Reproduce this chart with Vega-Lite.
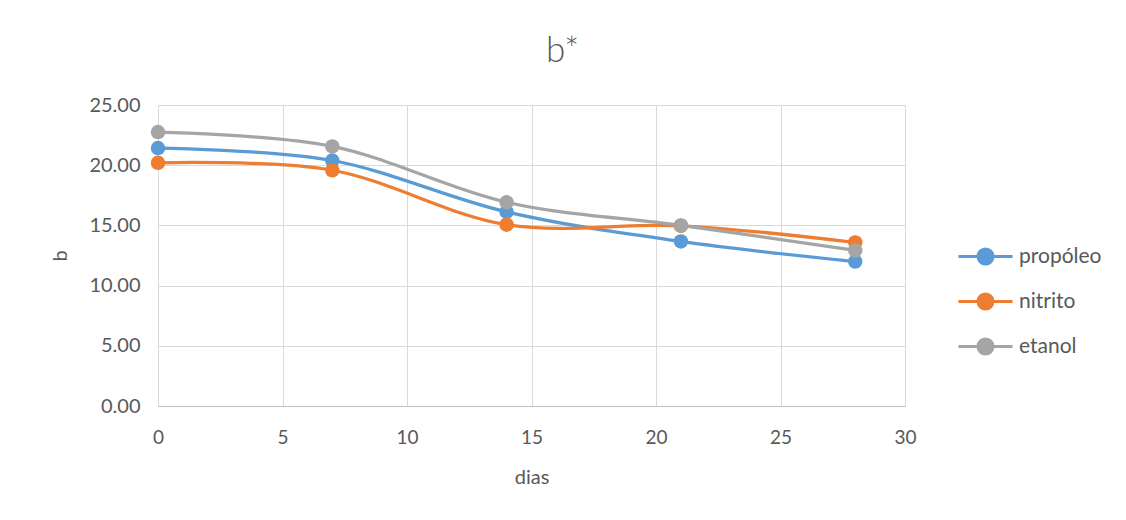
{
  "$schema": "https://vega.github.io/schema/vega-lite/v6.json",
  "width": 747,
  "height": 301,
  "autosize": {"type": "none"},
  "padding": {"left": 158, "top": 105, "right": 221, "bottom": 114},
  "background": "white",
  "title": {"text": "b*", "fontSize": 35, "font": "Lato", "fontWeight": 300, "color": "#595959", "frame": "group", "anchor": "middle", "dx": 31, "offset": 26},
  "data": {"values": [
    {"serie": "propóleo", "dias": 0, "b": 21.42},
    {"serie": "propóleo", "dias": 7, "b": 20.39},
    {"serie": "propóleo", "dias": 14, "b": 16.12},
    {"serie": "propóleo", "dias": 21, "b": 13.67},
    {"serie": "propóleo", "dias": 28, "b": 12.0},
    {"serie": "nitrito", "dias": 0, "b": 20.2},
    {"serie": "nitrito", "dias": 7, "b": 19.58},
    {"serie": "nitrito", "dias": 14, "b": 15.06},
    {"serie": "nitrito", "dias": 21, "b": 14.97},
    {"serie": "nitrito", "dias": 28, "b": 13.58},
    {"serie": "etanol", "dias": 0, "b": 22.75},
    {"serie": "etanol", "dias": 7, "b": 21.56},
    {"serie": "etanol", "dias": 14, "b": 16.92},
    {"serie": "etanol", "dias": 21, "b": 15.0},
    {"serie": "etanol", "dias": 28, "b": 12.92}
  ]},
  "encoding": {
    "x": {"field": "dias", "type": "quantitative", "scale": {"domain": [0, 30], "nice": false},
      "axis": {"values": [0, 5, 10, 15, 20, 25, 30], "format": "d", "labelFlush": false, "grid": true, "gridColor": "#D9D9D9", "gridWidth": 1, "domain": true, "domainColor": "#BFBFBF", "domainWidth": 1, "ticks": false, "labelFont": "Lato", "labelFontSize": 19, "labelColor": "#595959", "labelPadding": 22, "title": "dias", "titleFont": "Lato", "titleFontSize": 20, "titleFontWeight": "normal", "titleColor": "#595959", "titlePadding": 20}},
    "y": {"field": "b", "type": "quantitative", "scale": {"domain": [0, 25], "nice": false},
      "axis": {"values": [0, 5, 10, 15, 20, 25], "format": ".2f", "grid": true, "gridColor": "#D9D9D9", "gridWidth": 1, "domain": false, "ticks": false, "labelFont": "Lato", "labelFontSize": 20, "labelColor": "#595959", "labelPadding": 18, "title": "b", "titleFont": "Lato", "titleFontSize": 20, "titleFontWeight": "normal", "titleColor": "#595959", "titlePadding": 18}},
    "color": {"field": "serie", "type": "nominal", "sort": null,
      "scale": {"domain": ["propóleo", "nitrito", "etanol"], "range": ["#5B9BD5", "#ED7D31", "#A5A5A5"]},
      "legend": {"orient": "none", "legendX": 810, "legendY": 134, "title": null, "padding": 0,
        "symbolType": "M-1.69,0H1.69M-0.47,0A0.47,0.47,0,1,1,0.47,0A0.47,0.47,0,1,1,-0.47,0Z",
        "symbolSize": 1024, "symbolStrokeWidth": 3, "labelFont": "Lato", "labelFontSize": 21, "labelColor": "#595959", "labelOffset": 16, "rowPadding": 13,
        "encode": {"symbols": {"update": {"fill": {"scale": "color", "field": "value"}, "stroke": {"scale": "color", "field": "value"}, "opacity": {"value": 1}, "size": {"value": 1024}, "strokeWidth": {"value": 3}}}}}}
  },
  "layer": [
    {"mark": {"type": "line", "interpolate": "cardinal", "strokeWidth": 3.25}},
    {"mark": {"type": "point", "filled": true, "size": 210, "opacity": 1}}
  ]
}
